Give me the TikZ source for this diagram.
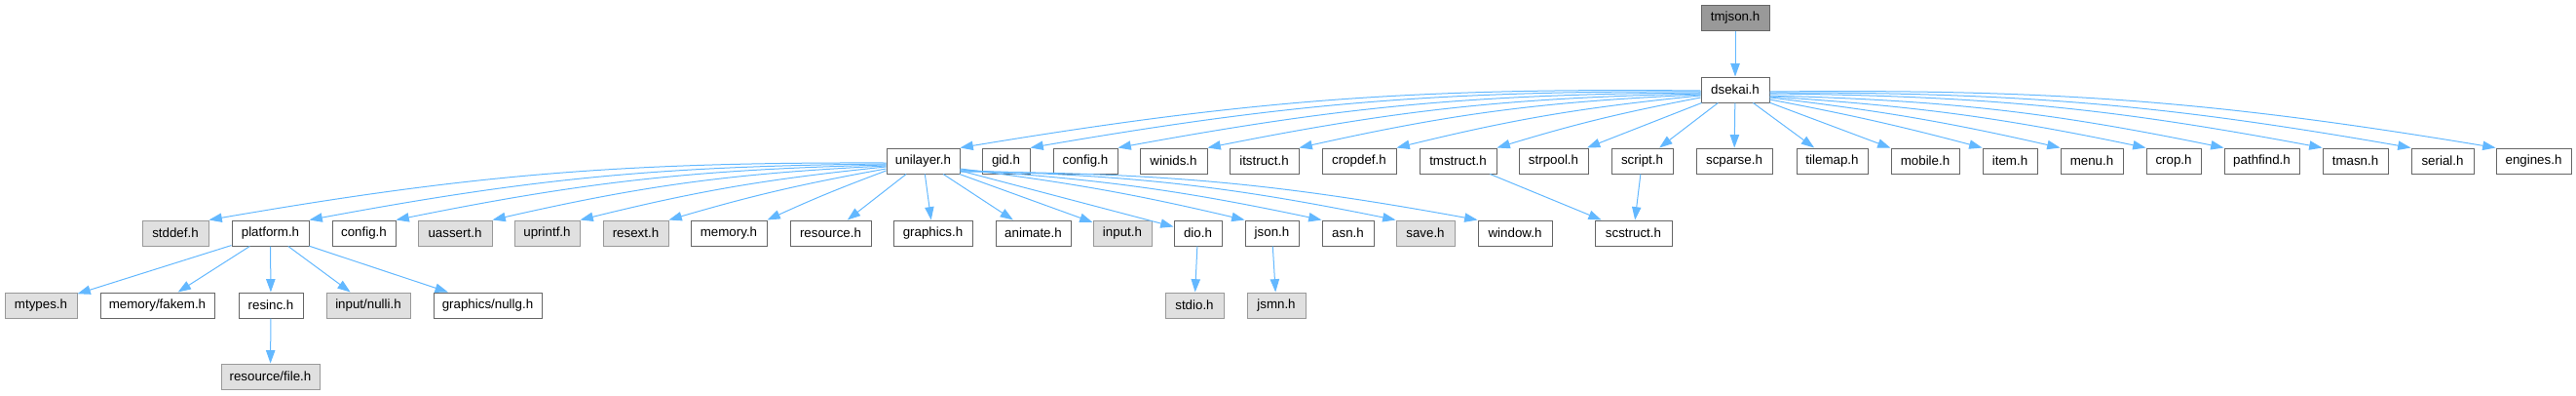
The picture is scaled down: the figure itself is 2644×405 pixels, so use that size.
\documentclass[tikz,border=0pt]{standalone}
\usepackage{fontspec}
\setmainfont{Liberation Sans}
\usetikzlibrary{arrows.meta}

\definecolor{incblue}{HTML}{63B8FF}
\definecolor{boxline}{HTML}{666666}
\definecolor{extline}{HTML}{999999}
\definecolor{extfill}{HTML}{E0E0E0}
\definecolor{rootfill}{HTML}{999999}

\begin{document}
\begin{tikzpicture}[x=0.75pt,y=-0.75pt,
  hdr/.style={draw=boxline,fill=white,line width=0.75pt,minimum height=19.5pt,
    inner sep=0pt,font=\fontsize{10}{12}\selectfont},
  ext/.style={hdr,draw=extline,fill=extfill},
  root/.style={hdr,fill=rootfill},
  inc/.style={incblue,line width=0.75pt,-{Triangle[length=10pt,width=7pt]}}]

  \useasboundingbox (0,0) rectangle (2644,405);

  % Top: the file itself and what it includes
  \node[root,minimum width=52.5pt] (tmjson) at (1781,18) {tmjson.h};
  \node[hdr,minimum width=52.5pt] (dsekai) at (1781,92) {dsekai.h};

  % Headers pulled in by dsekai.h
  \foreach \n/\x/\w in {unilayer/947.5/75, gid/1032.5/49, config/1114/66,
      winids/1204.5/69, itstruct/1297.5/71, cropdef/1395/76, tmstruct/1496.5/79,
      strpool/1594.5/71, script/1685.5/63, scparse/1780/78, tilemap/1880.5/73,
      mobile/1976/70, item/2063/56, menu/2147/64, crop/2231/56,
      pathfind/2321.5/77, tmasn/2417.5/67, serial/2507/64, engines/2600.5/77}
    \node[hdr,minimum width=\w*0.75pt] (\n) at (\x,165) {\n.h};

  % Headers pulled in by unilayer.h
  \foreach \n/\x/\w in {platform/277.5/79, memory/748/78, resource/852.5/83,
      graphics/957.5/81, animate/1060.5/77, dio/1229.5/49, json/1305.5/55,
      asn/1383.5/53, window/1555/76, scstruct/1676.5/79}
    \node[hdr,minimum width=\w*0.75pt] (\n) at (\x,239) {\n.h};
  \foreach \n/\x/\w in {stddef/180/68, uassert/467/76, uprintf/561.5/67,
      resext/652.5/67, input/1152/60, save/1463/60}
    \node[ext,minimum width=\w*0.75pt] (\n) at (\x,239) {\n.h};
  \node[hdr,minimum width=48.75pt] (uconfig) at (373.5,239) {config.h};

  % Third level
  \node[ext,minimum width=55.5pt] (mtypes) at (42,313) {mtypes.h};
  \node[hdr,minimum width=87.75pt] (fakem) at (161.5,313) {memory/fakem.h};
  \node[hdr,minimum width=49.5pt] (resinc) at (278,313) {resinc.h};
  \node[ext,minimum width=64.5pt] (nulli) at (378,313) {input/nulli.h};
  \node[hdr,minimum width=83.25pt] (nullg) at (500.5,313) {graphics/nullg.h};
  \node[ext,minimum width=45pt] (stdio) at (1226,313) {stdio.h};
  \node[ext,minimum width=45pt] (jsmn) at (1310,313) {jsmn.h};
  \node[ext,minimum width=75.75pt] (file) at (277.5,386) {resource/file.h};

  % Edges from the top
  \draw[inc] (tmjson) -- (dsekai);
  \foreach \t/\d/\b in {unilayer/1/5, gid/2/5, config/3/5, winids/4/5,
      itstruct/5/5, cropdef/6/4, tmstruct/8/3}
    \draw[inc] ([yshift=-\d*0.75pt]dsekai.west) to[bend right=\b] (\t.north east);
  \foreach \t in {strpool, script, scparse, tilemap, mobile}
    \draw[inc] (dsekai) -- (\t);
  \foreach \t/\d/\b in {item/10/2, menu/8/3, crop/7/4, pathfind/6/5,
      tmasn/4/5, serial/3/5, engines/2/5}
    \draw[inc] ([yshift=-\d*0.75pt]dsekai.east) to[bend left=\b] (\t.north west);

  % Edges from unilayer.h
  \foreach \t/\d/\b in {stddef/2/5, platform/3/5, uconfig/4/5, uassert/5/5,
      uprintf/6/4, resext/8/3, memory/10/2}
    \draw[inc] ([yshift=-\d*0.75pt]unilayer.west) to[bend right=\b] (\t.north east);
  \foreach \t in {resource, graphics, animate, input, dio}
    \draw[inc] (unilayer) -- (\t);
  \foreach \t/\d/\b in {json/8/3, asn/9/4, save/10/5, window/11/5}
    \draw[inc] ([yshift=-\d*0.75pt]unilayer.east) to[bend left=\b] (\t.north west);

  % Lower edges
  \foreach \t in {mtypes, fakem, resinc, nulli, nullg}
    \draw[inc] (platform) -- (\t);
  \draw[inc] (resinc) -- (file);
  \draw[inc] (dio) -- (stdio);
  \draw[inc] (json) -- (jsmn);
  \draw[inc] (tmstruct) -- (scstruct);
  \draw[inc] (script) -- (scstruct);

\end{tikzpicture}
\end{document}
